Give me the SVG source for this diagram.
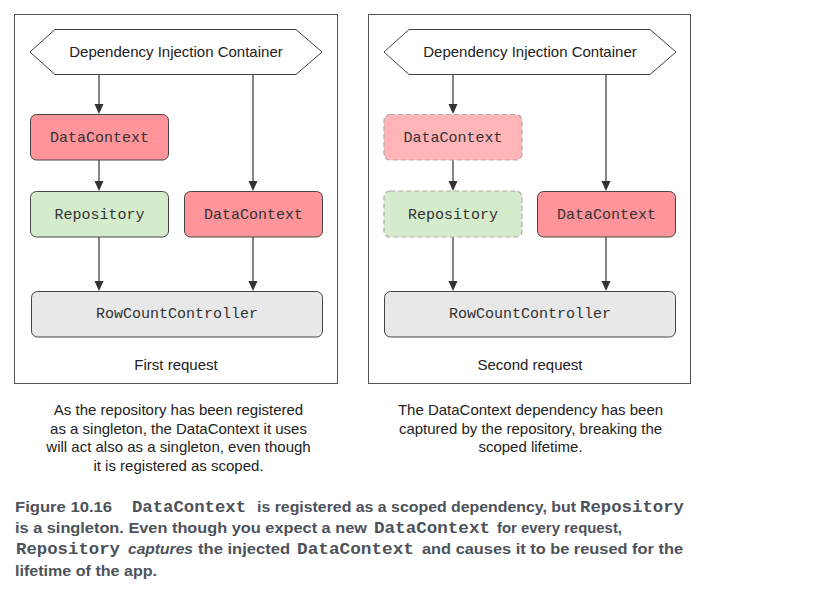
<svg xmlns="http://www.w3.org/2000/svg" width="837" height="596" viewBox="0 0 837 596">
<defs>
<style>
.panel{fill:#fff;stroke:#555;stroke-width:1}
.hex{fill:#fff;stroke:#444;stroke-width:1}
.box{stroke:#444;stroke-width:1}
.dash{stroke:#aaa;stroke-width:1.2;stroke-dasharray:5 3}
.red{fill:#ff959b}
.fred{fill:#ffb4b8}
.green{fill:#d4ebcc}
.gray{fill:#e8e8e8}
.mono{font-family:"Liberation Mono","Courier New",monospace;font-size:15px;fill:#333;text-anchor:middle}
.sans{font-family:"Liberation Sans",Arial,sans-serif;font-size:15px;fill:#222;text-anchor:middle}
.note{font-family:"Liberation Sans",Arial,sans-serif;font-size:15px;fill:#222;text-anchor:middle}
.cap{font-family:"Liberation Sans",Arial,sans-serif;font-size:15px;font-weight:bold;fill:#4d525a}
.capm{font-family:"Liberation Mono","Courier New",monospace;font-size:17px;font-weight:bold;fill:#4d525a}
.conn{stroke:#333;stroke-width:1.2;fill:none}
.head{fill:#333}
</style>
</defs>

<g id="panel-first">
<rect class="panel" x="14.5" y="14.5" width="323" height="369"/>
<text class="sans" x="176" y="370">First request</text>
</g>
<g id="panel-second">
<rect class="panel" x="368.5" y="14.5" width="322" height="369"/>
<text class="sans" x="530" y="370">Second request</text>
</g>

<g id="connectors">
<line class="conn" x1="99" y1="75" x2="99" y2="105"/>
<path class="head" d="M94.5,104 L103.5,104 L99,114 Z"/>
<line class="conn" x1="253" y1="75" x2="253" y2="182"/>
<path class="head" d="M248.5,181 L257.5,181 L253,191 Z"/>
<line class="conn" x1="99" y1="160" x2="99" y2="182"/>
<path class="head" d="M94.5,181 L103.5,181 L99,191 Z"/>
<line class="conn" x1="99" y1="237" x2="99" y2="282"/>
<path class="head" d="M94.5,281 L103.5,281 L99,291 Z"/>
<line class="conn" x1="253" y1="237" x2="253" y2="282"/>
<path class="head" d="M248.5,281 L257.5,281 L253,291 Z"/>

<line class="conn" x1="453" y1="75" x2="453" y2="105"/>
<path class="head" d="M448.5,104 L457.5,104 L453,114 Z"/>
<line class="conn" x1="606" y1="75" x2="606" y2="182"/>
<path class="head" d="M601.5,181 L610.5,181 L606,191 Z"/>
<line class="conn" x1="453" y1="160" x2="453" y2="182"/>
<path class="head" d="M448.5,181 L457.5,181 L453,191 Z"/>
<line class="conn" x1="453" y1="237" x2="453" y2="282"/>
<path class="head" d="M448.5,281 L457.5,281 L453,291 Z"/>
<line class="conn" x1="606" y1="237" x2="606" y2="282"/>
<path class="head" d="M601.5,281 L610.5,281 L606,291 Z"/>
</g>

<g id="di-container-1">
<polygon class="hex" points="30,52 55,29.5 296,29.5 322,52 296,74.5 55,74.5"/>
<text class="sans" x="176" y="57">Dependency Injection Container</text>
</g>
<g id="datacontext-1a">
<rect class="box red" x="30.5" y="114.5" width="138" height="45.5" rx="6"/>
<text class="mono" x="99.5" y="142">DataContext</text>
</g>
<g id="repository-1">
<rect class="box green" x="30.5" y="191.5" width="138" height="45.5" rx="6"/>
<text class="mono" x="99.5" y="219">Repository</text>
</g>
<g id="datacontext-1b">
<rect class="box red" x="184.5" y="191.5" width="138" height="45.5" rx="6"/>
<text class="mono" x="253.5" y="219">DataContext</text>
</g>
<g id="controller-1">
<rect class="box gray" x="31.5" y="291.5" width="291" height="45.5" rx="6"/>
<text class="mono" x="177" y="318">RowCountController</text>
</g>

<g id="di-container-2">
<polygon class="hex" points="384,52 409,29.5 650,29.5 676,52 650,74.5 409,74.5"/>
<text class="sans" x="530" y="57">Dependency Injection Container</text>
</g>
<g id="datacontext-2a">
<rect class="dash fred" x="384" y="114.5" width="138" height="45.5" rx="6"/>
<text class="mono" x="453" y="142">DataContext</text>
</g>
<g id="repository-2">
<rect class="dash green" x="384" y="191" width="138" height="46" rx="6"/>
<text class="mono" x="453" y="219">Repository</text>
</g>
<g id="datacontext-2b">
<rect class="box red" x="537.5" y="191.5" width="138" height="45.5" rx="6"/>
<text class="mono" x="606.5" y="219">DataContext</text>
</g>
<g id="controller-2">
<rect class="box gray" x="384.5" y="291.5" width="291" height="45.5" rx="6"/>
<text class="mono" x="530" y="318">RowCountController</text>
</g>

<g id="note-left">
<text class="note" x="178.5" y="415">As the repository has been registered</text>
<text class="note" x="178.5" y="433.5">as a singleton, the DataContext it uses</text>
<text class="note" x="178.5" y="452">will act also as a singleton, even though</text>
<text class="note" x="178.5" y="470.5">it is registered as scoped.</text>
</g>
<g id="note-right">
<text class="note" x="530.5" y="415">The DataContext dependency has been</text>
<text class="note" x="530.5" y="433.5">captured by the repository, breaking the</text>
<text class="note" x="530.5" y="452">scoped lifetime.</text>
</g>

<g id="caption">
<text class="cap" x="15" y="512" textLength="97" lengthAdjust="spacingAndGlyphs">Figure 10.16</text>
<text class="capm" x="132" y="512" textLength="114" lengthAdjust="spacingAndGlyphs">DataContext</text>
<text class="cap" x="257" y="512" textLength="319" lengthAdjust="spacingAndGlyphs">is registered as a scoped dependency, but</text>
<text class="capm" x="580" y="512" textLength="104" lengthAdjust="spacingAndGlyphs">Repository</text>

<text class="cap" x="15" y="533" textLength="352" lengthAdjust="spacingAndGlyphs">is a singleton. Even though you expect a new</text>
<text class="capm" x="374" y="533" textLength="116" lengthAdjust="spacingAndGlyphs">DataContext</text>
<text class="cap" x="497" y="533" textLength="125" lengthAdjust="spacingAndGlyphs">for every request,</text>

<text class="capm" x="16" y="554" textLength="104" lengthAdjust="spacingAndGlyphs">Repository</text>
<text class="cap" x="128" y="554" textLength="65" lengthAdjust="spacingAndGlyphs" font-style="italic">captures</text>
<text class="cap" x="198" y="554" textLength="92" lengthAdjust="spacingAndGlyphs">the injected</text>
<text class="capm" x="297" y="554" textLength="117" lengthAdjust="spacingAndGlyphs">DataContext</text>
<text class="cap" x="422" y="554" textLength="261" lengthAdjust="spacingAndGlyphs">and causes it to be reused for the</text>

<text class="cap" x="15" y="576" textLength="142" lengthAdjust="spacingAndGlyphs">lifetime of the app.</text>
</g>
</svg>
